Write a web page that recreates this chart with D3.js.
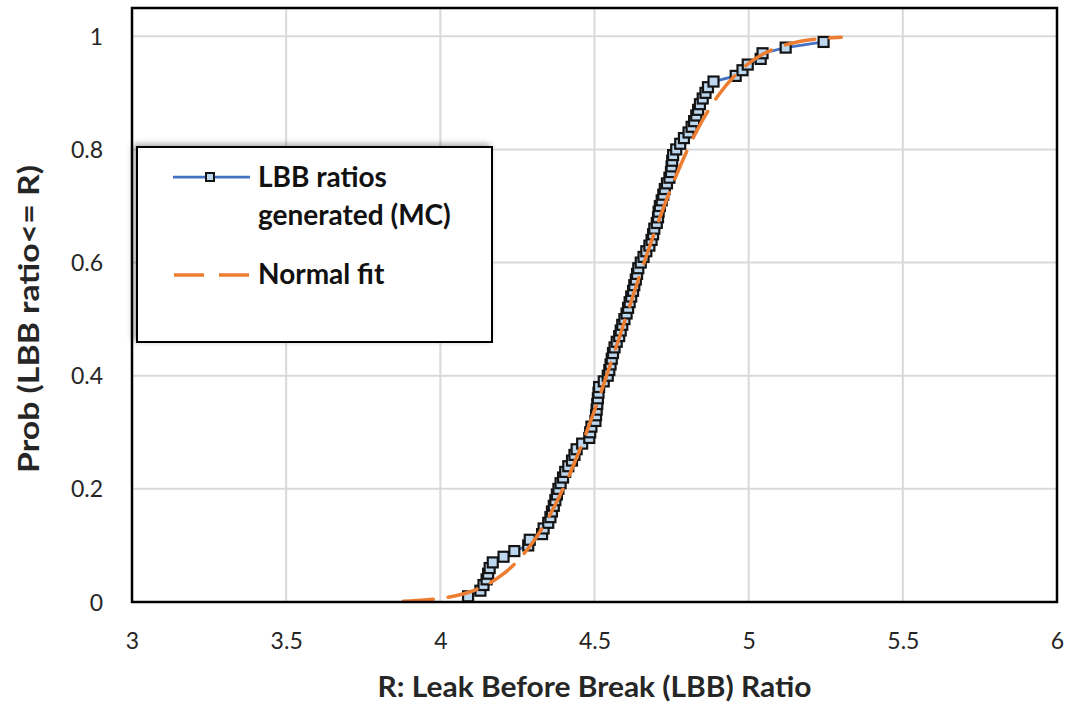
<!DOCTYPE html>
<html>
<head>
<meta charset="utf-8">
<script src="https://cdn.jsdelivr.net/npm/d3@7"></script>
<style>
  html, body { margin: 0; padding: 0; background: #fff; }
  svg { display: block; font-family: Lato, "Open Sans", sans-serif; }
</style>
</head>
<body>
<svg id="chart" width="1068" height="707"></svg>
<script>
// ---- Data ----
const mcProb = [0.01,0.02,0.03,0.04,0.05,0.06,0.07,0.08,0.09,0.10,
  0.11,0.12,0.13,0.14,0.15,0.16,0.17,0.18,0.19,0.20,
  0.21,0.22,0.23,0.24,0.25,0.26,0.27,0.28,0.29,0.30,
  0.31,0.32,0.33,0.34,0.35,0.36,0.37,0.38,0.39,0.40,
  0.41,0.42,0.43,0.44,0.45,0.46,0.47,0.48,0.49,0.50,
  0.51,0.52,0.53,0.54,0.55,0.56,0.57,0.58,0.59,0.60,
  0.61,0.62,0.63,0.64,0.65,0.66,0.67,0.68,0.69,0.70,
  0.71,0.72,0.73,0.74,0.75,0.76,0.77,0.78,0.79,0.80,
  0.81,0.82,0.83,0.84,0.85,0.86,0.87,0.88,0.89,0.90,
  0.91,0.92,0.93,0.94,0.95,0.96,0.97,0.98,0.99];
const mcRatio = [4.09,4.13,4.14,4.15,4.155,4.16,4.17,4.205,4.24,4.285,
  4.29,4.33,4.335,4.35,4.357,4.362,4.368,4.373,4.378,4.383,
  4.39,4.398,4.405,4.415,4.427,4.435,4.442,4.46,4.483,4.486,
  4.49,4.503,4.505,4.507,4.509,4.511,4.513,4.515,4.53,4.543,
  4.548,4.552,4.556,4.56,4.565,4.572,4.58,4.585,4.59,4.597,
  4.604,4.609,4.614,4.619,4.625,4.629,4.634,4.638,4.642,4.65,
  4.659,4.668,4.678,4.685,4.69,4.694,4.702,4.706,4.708,4.712,
  4.718,4.723,4.728,4.735,4.743,4.748,4.75,4.752,4.755,4.765,
  4.778,4.79,4.805,4.815,4.823,4.83,4.836,4.842,4.851,4.86,
  4.868,4.886,4.958,4.98,4.997,5.039,5.045,5.12,5.243];

const fitRatio = [3.88,3.95,4.00,4.05,4.10,4.15,4.20,4.25,4.30,4.35,4.40,4.45,4.50,4.55,4.60,
  4.65,4.70,4.75,4.80,4.85,4.90,4.95,5.00,5.05,5.10,5.15,5.20,5.25,5.30];
const fitProb = [0.0013,0.0034,0.0062,0.011,0.0186,0.0304,0.0478,0.0724,0.1056,0.1488,0.2023,0.266,0.3385,0.4175,0.5,
  0.5825,0.6615,0.734,0.7977,0.8512,0.8944,0.9276,0.9522,0.9696,0.9814,0.989,0.9938,0.9966,0.9982];

const xTicks = [3, 3.5, 4, 4.5, 5, 5.5, 6];
const yTicks = [0, 0.2, 0.4, 0.6, 0.8, 1];
const seriesNames = ["LBB ratios", "generated (MC)", "Normal fit"];
const xTitle = "R: Leak Before Break (LBB) Ratio";
const yTitle = "Prob (LBB ratio<= R)";

// ---- Layout ----
const svg = d3.select("#chart");
const L = 132, R = 1057, T = 8, B = 602;
const x = d3.scaleLinear().domain([3, 6]).range([L, R]);
const y = d3.scaleLinear().domain([0, 1.05]).range([B, T]);

const blue = "#4472C4", orange = "#ED7D31";

// gridlines
svg.append("g").selectAll("line.v").data(xTicks).join("line")
  .attr("x1", d => x(d)).attr("x2", d => x(d)).attr("y1", T).attr("y2", B)
  .attr("stroke", "#d9d9d9").attr("stroke-width", 2);
svg.append("g").selectAll("line.h").data(yTicks).join("line")
  .attr("x1", L).attr("x2", R).attr("y1", d => y(d)).attr("y2", d => y(d))
  .attr("stroke", "#d9d9d9").attr("stroke-width", 2);

// axes (labels only)
const xAxis = d3.axisBottom(x).tickValues(xTicks).tickSize(0).tickPadding(0).tickFormat(d3.format("~g"));
const gx = svg.append("g").attr("transform", `translate(0,${B})`).call(xAxis);
gx.select(".domain").remove();
gx.selectAll("text").attr("y", 47).attr("dy", 0)
  .style("font-size", "23px").style("font-family", "Lato, sans-serif").attr("fill", "#262626");

const yAxis = d3.axisLeft(y).tickValues(yTicks).tickSize(0).tickPadding(0).tickFormat(d3.format("~g"));
const gy = svg.append("g").attr("transform", `translate(${L},0)`).call(yAxis);
gy.select(".domain").remove();
gy.selectAll("text").attr("x", -29).attr("dy", "0.35em")
  .style("font-size", "23px").style("font-family", "Lato, sans-serif").attr("fill", "#262626");

// MC series
const mcData = mcRatio.map((v, i) => ({ x: v, p: mcProb[i] }));
const line = d3.line().x(d => x(d.x)).y(d => y(d.p));
svg.append("path").datum(mcData).attr("d", line)
  .attr("fill", "none").attr("stroke", blue).attr("stroke-width", 2.75);
svg.append("g").selectAll("rect").data(mcData).join("rect")
  .attr("x", d => x(d.x) - 5).attr("y", d => y(d.p) - 5)
  .attr("width", 10).attr("height", 10)
  .attr("fill", "#BDD7EE").attr("stroke", "#141414").attr("stroke-width", 2.2);

// Normal fit
const fitData = fitRatio.map((v, i) => ({ x: v, p: fitProb[i] }));
svg.append("path").datum(fitData).attr("d", d3.line().curve(d3.curveMonotoneX).x(d => x(d.x)).y(d => y(d.p)))
  .attr("fill", "none").attr("stroke", orange).attr("stroke-width", 3.5)
  .attr("stroke-dasharray", "30,15").attr("stroke-linecap", "round");

// plot border
svg.append("rect").attr("x", L).attr("y", T).attr("width", R - L).attr("height", B - T)
  .attr("fill", "none").attr("stroke", "#000").attr("stroke-width", 2.5);

// axis titles
svg.append("text").attr("x", (L + R) / 2).attr("y", 697).attr("text-anchor", "middle")
  .attr("textLength", 434).attr("lengthAdjust", "spacingAndGlyphs")
  .style("font-size", "28px").style("font-weight", "bold").attr("fill", "#262626").text(xTitle);
svg.append("text").attr("transform", `translate(39,${(T + B) / 2 + 14}) rotate(-90)`).attr("text-anchor", "middle")
  .attr("textLength", 308).attr("lengthAdjust", "spacingAndGlyphs")
  .style("font-size", "28px").style("font-weight", "bold").attr("fill", "#262626").text(yTitle);

// legend
const defs = svg.append("defs");
const f = defs.append("filter").attr("id", "shadow").attr("x", "-10%").attr("y", "-10%").attr("width", "120%").attr("height", "120%");
f.append("feDropShadow").attr("dx", -3).attr("dy", -2).attr("stdDeviation", 3).attr("flood-color", "#000").attr("flood-opacity", 0.35);

const lg = svg.append("g");
lg.append("rect").attr("x", 137).attr("y", 147).attr("width", 355).attr("height", 195)
  .attr("fill", "#fff").attr("stroke", "#000").attr("stroke-width", 2).attr("filter", "url(#shadow)");
lg.append("line").attr("x1", 173).attr("x2", 250).attr("y1", 177).attr("y2", 177)
  .attr("stroke", blue).attr("stroke-width", 2.75);
lg.append("rect").attr("x", 206).attr("y", 173).attr("width", 8).attr("height", 8)
  .attr("fill", "#BDD7EE").attr("stroke", "#141414").attr("stroke-width", 2);
const legFont = "28px";
lg.append("text").attr("x", 258).attr("y", 187).style("font-size", legFont).style("font-weight", "bold")
  .attr("fill", "#111").text(seriesNames[0]);
lg.append("text").attr("x", 258).attr("y", 225).style("font-size", legFont).style("font-weight", "bold")
  .attr("fill", "#111").text(seriesNames[1]);
lg.append("line").attr("x1", 174).attr("x2", 250).attr("y1", 275).attr("y2", 275)
  .attr("stroke", orange).attr("stroke-width", 3.5).attr("stroke-dasharray", "30,15");
lg.append("text").attr("x", 258).attr("y", 284).style("font-size", legFont).style("font-weight", "bold")
  .attr("fill", "#111").text(seriesNames[2]);
</script>
</body>
</html>
